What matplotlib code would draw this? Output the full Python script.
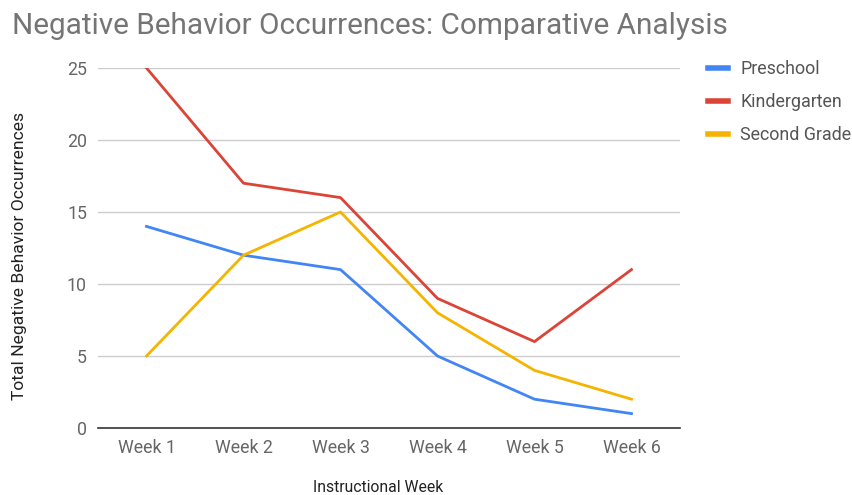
import matplotlib
matplotlib.use("Agg")
import matplotlib.pyplot as plt

plt.rcParams["font.family"] = ["Roboto", "DejaVu Sans"]

weeks = ["Week 1", "Week 2", "Week 3", "Week 4", "Week 5", "Week 6"]
preschool = [14, 12, 11, 5, 2, 1]
kindergarten = [25, 17, 16, 9, 6, 11]
second_grade = [5, 12, 15, 8, 4, 2]

series = [
    ("Preschool", preschool, "#4285F4"),
    ("Kindergarten", kindergarten, "#DB4437"),
    ("Second Grade", second_grade, "#F4B400"),
]

fig = plt.figure(figsize=(8.52, 4.95), dpi=100)
ax = fig.add_axes([98 / 852, 1 - 428 / 495, 582 / 852, 360 / 495])

x = range(len(weeks))
for name, vals, col in series:
    ax.plot(x, vals, color=col, linewidth=2, label=name)

ax.set_xlim(-0.5, len(weeks) - 0.5)
ax.set_ylim(0, 25)
ax.set_yticks([0, 5, 10, 15, 20, 25])
ax.set_xticks(list(x))
ax.set_xticklabels(weeks)
ax.tick_params(length=0, labelsize=12.8, colors="#666666", pad=8)
ax.grid(axis="y", color="#cccccc", linewidth=1)
ax.set_axisbelow(True)
for s in ["top", "right", "left"]:
    ax.spines[s].set_visible(False)
ax.spines["bottom"].set_color("#333333")
ax.spines["bottom"].set_linewidth(1.2)

fig.text(20 / 852, 1 - 256 / 495, "Total Negative Behavior Occurrences", fontsize=12.6,
         color="#222222", rotation=90, ha="center", va="center")
fig.text(378 / 852, 1 - 488 / 495, "Instructional Week", fontsize=11.3,
         color="#222222", ha="center", va="center")

fig.text(12 / 852, 1 - 26 / 495, "Negative Behavior Occurrences: Comparative Analysis",
         fontsize=21.4, color="#757575", ha="left", va="center")

leg = fig.legend(loc="upper left", bbox_to_anchor=(708 / 852, 1 - 60 / 495), frameon=False,
                 borderaxespad=0, borderpad=0,
                 fontsize=12.9, handlelength=1.1, handletextpad=0.7, labelspacing=0.84)
for t in leg.get_texts():
    t.set_color("#555555")
for h in leg.get_lines():
    h.set_linewidth(4)

fig.savefig("out.png", dpi=100)
